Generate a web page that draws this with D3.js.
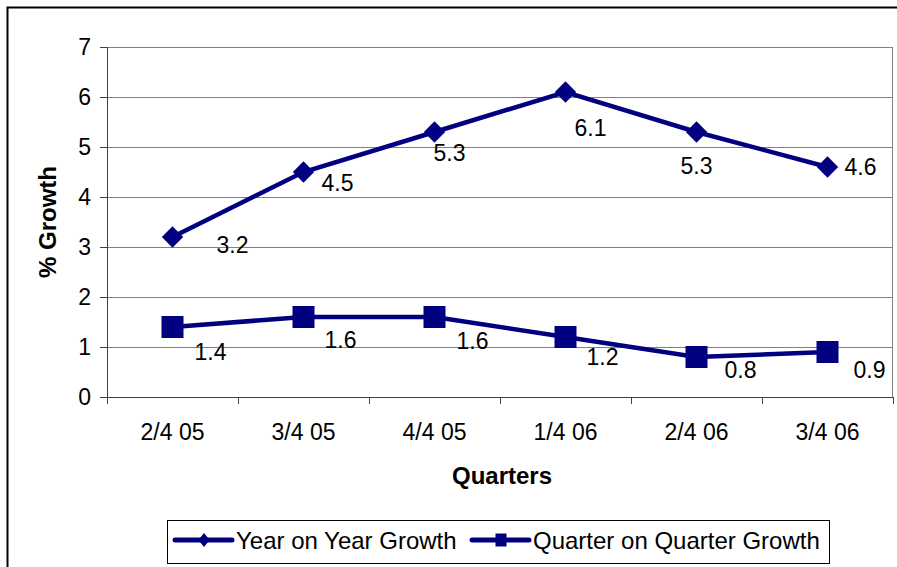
<!DOCTYPE html>
<html>
<head>
<meta charset="utf-8">
<script src="https://cdn.jsdelivr.net/npm/d3@7"></script>
<style>
  body { margin: 0; background: #fff; }
  svg text { font-family: "Liberation Sans", Arial, sans-serif; fill: #000; }
</style>
</head>
<body>
<div id="chart"></div>
<script>
const quarters = ["2/4 05", "3/4 05", "4/4 05", "1/4 06", "2/4 06", "3/4 06"];
const yoyGrowth = [3.2, 4.5, 5.3, 6.1, 5.3, 4.6];
const qoqGrowth = [1.4, 1.6, 1.6, 1.2, 0.8, 0.9];
const yTicks = [0, 1, 2, 3, 4, 5, 6, 7];

// label offsets (px) as Excel placed them
const yoyLabelOff = [[60, 8], [34, 11], [15, 21], [25, 36], [0, 34], [33, 0]];
const qoqLabelOff = [[38, 25], [37, 23], [38, 24], [37, 20], [44, 13], [42, 18]];

const W = 897, H = 567;
const margin = {top: 47, right: 4, bottom: 170, left: 107};
const width = W - margin.left - margin.right,
      height = H - margin.top - margin.bottom;
const navy = "#000080";
const fs = 23;

const root = d3.select("#chart").append("svg")
  .attr("width", W).attr("height", H);

// outer chart border
root.append("rect")
  .attr("x", 7.5).attr("y", 7.5)
  .attr("width", W).attr("height", H)
  .attr("fill", "none").attr("stroke", "#000").attr("stroke-width", 2);

const svg = root.append("g")
  .attr("transform", `translate(${margin.left},${margin.top})`);

const x = d3.scaleBand().domain(quarters).range([0, width]);
const y = d3.scaleLinear().domain([0, 7]).range([height, 0]);

// gridlines
svg.append("g")
  .selectAll("line")
  .data(yTicks.slice(1))
  .join("line")
    .attr("x1", 0).attr("x2", width)
    .attr("y1", d => y(d) + 0.5).attr("y2", d => y(d) + 0.5)
    .attr("stroke", "#808080").attr("stroke-width", 1);

// plot border right
svg.append("line")
  .attr("x1", width - 0.5).attr("x2", width - 0.5)
  .attr("y1", 0).attr("y2", height)
  .attr("stroke", "#808080");

// y axis
svg.append("g")
  .call(d3.axisLeft(y).tickValues(yTicks).tickSize(7).tickPadding(9).tickFormat(d3.format("d")))
  .call(g => g.select(".domain").attr("stroke", "#404040"))
  .call(g => g.selectAll(".tick line").attr("stroke", "#404040"))
  .call(g => g.selectAll("text").attr("font-size", fs).attr("font-family", "Liberation Sans, Arial"));

// x axis
const xTickPos = d3.range(quarters.length + 1).map(i => i * x.step());
const xg = svg.append("g").attr("transform", `translate(0,${height})`);
xg.append("line")
  .attr("x1", 0).attr("x2", width).attr("y1", 0.5).attr("y2", 0.5)
  .attr("stroke", "#404040");
xg.selectAll(".tk").data(xTickPos).join("line")
  .attr("x1", d => d + 0.5).attr("x2", d => d + 0.5)
  .attr("y1", 0).attr("y2", 7)
  .attr("stroke", "#404040");
xg.selectAll("text").data(quarters).join("text")
  .attr("x", d => x(d) + x.bandwidth() / 2)
  .attr("y", 35)
  .attr("text-anchor", "middle")
  .attr("dominant-baseline", "central")
  .attr("font-size", fs)
  .text(d => d);

// axis titles
svg.append("text")
  .attr("transform", `translate(-60,${height / 2}) rotate(-90)`)
  .attr("text-anchor", "middle")
  .attr("dominant-baseline", "central")
  .attr("font-size", 24).attr("font-weight", "bold")
  .text("% Growth");

svg.append("text")
  .attr("x", width / 2 + 2).attr("y", height + 78)
  .attr("text-anchor", "middle")
  .attr("dominant-baseline", "central")
  .attr("font-size", 24).attr("font-weight", "bold")
  .text("Quarters");

const line = d3.line()
  .x((d, i) => x(quarters[i]) + x.bandwidth() / 2)
  .y(d => y(d));

const diamond = d3.symbol().type(d3.symbolDiamond2).size(290);
const square = d3.symbol().type(d3.symbolSquare).size(484);

function drawSeries(values, sym, offs) {
  svg.append("path")
    .datum(values)
    .attr("fill", "none")
    .attr("stroke", navy)
    .attr("stroke-width", 4.5)
    .attr("d", line);
  svg.append("g").selectAll("path")
    .data(values)
    .join("path")
      .attr("transform", (d, i) => `translate(${x(quarters[i]) + x.bandwidth() / 2},${y(d)})`)
      .attr("d", sym)
      .attr("fill", navy);
  svg.append("g").selectAll("text")
    .data(values)
    .join("text")
      .attr("x", (d, i) => x(quarters[i]) + x.bandwidth() / 2 + offs[i][0])
      .attr("y", (d, i) => y(d) + offs[i][1])
      .attr("text-anchor", "middle")
      .attr("dominant-baseline", "central")
      .attr("font-size", fs)
      .text(d => d3.format(".1f")(d));
}

drawSeries(yoyGrowth, diamond, yoyLabelOff);
drawSeries(qoqGrowth, square, qoqLabelOff);

// legend
const lg = root.append("g").attr("transform", "translate(167,520)");
lg.append("rect")
  .attr("x", 0.5).attr("y", 0.5).attr("width", 662).attr("height", 43)
  .attr("fill", "#fff").attr("stroke", "#000").attr("stroke-width", 1);

const legendItems = [
  {name: "Year on Year Growth", sym: d3.symbol().type(d3.symbolDiamond2).size(128), sx: 0.8, x: 8},
  {name: "Quarter on Quarter Growth", sym: d3.symbol().type(d3.symbolSquare).size(169), sx: 0.85, x: 305}
];
legendItems.forEach(it => {
  const g = lg.append("g").attr("transform", `translate(${it.x},20)`);
  g.append("line").attr("x1", 0).attr("x2", 57).attr("y1", 0).attr("y2", 0)
    .attr("stroke", navy).attr("stroke-width", 5).attr("stroke-linecap", "round");
  g.append("path").attr("transform", `translate(29,0) scale(${it.sx},1)`).attr("d", it.sym).attr("fill", navy);
  g.append("text").attr("x", 61).attr("y", 0)
    .attr("dominant-baseline", "central")
    .attr("font-size", 24)
    .text(it.name);
});
</script>
</body>
</html>
